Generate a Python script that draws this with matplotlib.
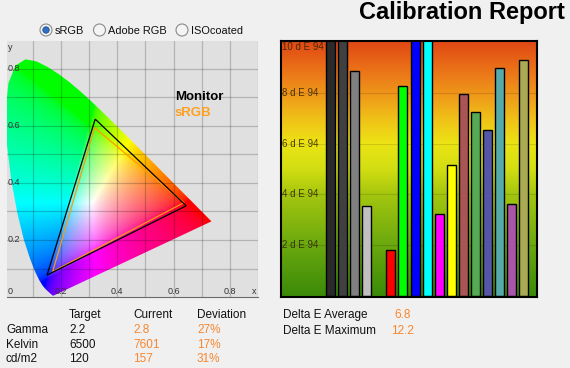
import matplotlib.pyplot as plt
import numpy as np
from matplotlib.colors import LinearSegmentedColormap
from matplotlib.patches import Polygon, Circle

plt.rcParams["font.family"] = ["Liberation Sans", "DejaVu Sans"]

# CIE 1931 spectral locus, 380-700 nm, 5 nm steps
locus_x = [0.1741, 0.1740, 0.1738, 0.1736, 0.1733, 0.1730, 0.1726, 0.1721, 0.1714, 0.1703,
           0.1689, 0.1669, 0.1644, 0.1611, 0.1566, 0.1510, 0.1440, 0.1355, 0.1241, 0.1096,
           0.0913, 0.0687, 0.0454, 0.0235, 0.0082, 0.0039, 0.0139, 0.0389, 0.0743, 0.1142,
           0.1547, 0.1929, 0.2296, 0.2658, 0.3016, 0.3373, 0.3731, 0.4087, 0.4441, 0.4788,
           0.5125, 0.5448, 0.5752, 0.6029, 0.6270, 0.6482, 0.6658, 0.6801, 0.6915, 0.7006,
           0.7079, 0.7140, 0.7190, 0.7230, 0.7260, 0.7283, 0.7300, 0.7311, 0.7320, 0.7327,
           0.7334, 0.7340, 0.7344, 0.7346, 0.7347]
locus_y = [0.0050, 0.0050, 0.0049, 0.0049, 0.0048, 0.0048, 0.0048, 0.0048, 0.0051, 0.0058,
           0.0069, 0.0086, 0.0109, 0.0138, 0.0177, 0.0227, 0.0297, 0.0399, 0.0578, 0.0868,
           0.1327, 0.2007, 0.2950, 0.4127, 0.5384, 0.6548, 0.7502, 0.8120, 0.8338, 0.8262,
           0.8059, 0.7816, 0.7543, 0.7243, 0.6923, 0.6589, 0.6245, 0.5896, 0.5547, 0.5202,
           0.4866, 0.4544, 0.4242, 0.3965, 0.3725, 0.3514, 0.3340, 0.3197, 0.3083, 0.2993,
           0.2920, 0.2859, 0.2809, 0.2770, 0.2740, 0.2717, 0.2700, 0.2689, 0.2680, 0.2673,
           0.2666, 0.2660, 0.2656, 0.2654, 0.2653]

# gamut triangles (R, G, B corners)
monitor_x = [0.645, 0.322, 0.151]
monitor_y = [0.320, 0.624, 0.077]
srgb_x = [0.637, 0.320, 0.171]
srgb_y = [0.331, 0.594, 0.089]
cie_ticks = [0.2, 0.4, 0.6, 0.8]

# delta E 94 per test patch (None = empty slot)
patch_names = ["Black", "Dark grey", "Grey", "Light grey", "", "Red", "Green", "Blue",
               "Cyan", "Magenta", "Yellow", "Light red", "Light green", "Light blue",
               "Light cyan", "Light magenta", "Light yellow"]
delta_e = [12.2, 11.6, 8.87, 3.53, None, 1.79, 8.27, 11.0, 10.6, 3.21, 5.15,
           7.96, 7.25, 6.53, 8.99, 3.61, 9.30]
patch_colors = ["#2a2a2a", "#404040", "#808080", "#c0c0c0", "none", "#ff0000", "#00ff00",
                "#0000ff", "#00ffff", "#ff00ff", "#ffff00", "#aa5555", "#55aa55",
                "#5555aa", "#55aaaa", "#aa55aa", "#aaaa55"]
de_ticks = [2, 4, 6, 8, 10]

# summary table
row_names = ["Gamma", "Kelvin", "cd/m2"]
target = ["2.2", "6500", "120"]
current = ["2.8", "7601", "157"]
deviation = ["27%", "17%", "31%"]
delta_avg = 6.8
delta_max = 12.2
radio_labels = ["sRGB", "Adobe RGB", "ISOcoated"]

orange = "#f7862f"
W, H = 570, 368
fig = plt.figure(figsize=(5.7, 3.68), dpi=100, facecolor="#f0f0f0")


def box(x0, y0, x1, y1):
    # pixel box -> figure fraction
    return [x0 / W, (H - y1) / H, (x1 - x0) / W, (y1 - y0) / H]


# overlay for free text, pixel coords
ov = fig.add_axes([0, 0, 1, 1])
ov.set_xlim(0, W)
ov.set_ylim(H, 0)
ov.axis("off")

ov.text(565, 13, "Calibration Report", ha="right", va="center", fontsize=17,
        fontweight="bold", color="black")

radio_x = [46, 99.5, 182]
for i, (lab, rx) in enumerate(zip(radio_labels, radio_x)):
    ov.add_patch(Circle((rx, 30), 6, facecolor="#f4f4f4", edgecolor="#8a8a8a", lw=0.8))
    if i == 0:
        ov.add_patch(Circle((rx, 30), 3.2, facecolor="#2f6fc8", edgecolor="#1c4a8a", lw=0.6))
    ov.text(rx + 9, 30.5, lab, ha="left", va="center", fontsize=7.9, color="#111111")

col_x = [69, 133, 197]
ov.text(col_x[0], 315, "Target", va="center", fontsize=8.5, color="#111111")
ov.text(col_x[1], 315, "Current", va="center", fontsize=8.5, color="#111111")
ov.text(col_x[2], 315, "Deviation", va="center", fontsize=8.5, color="#111111")
for r, name in enumerate(row_names):
    y = 330 + r * 14.7
    ov.text(6, y, name, va="center", fontsize=8.5, color="#111111")
    ov.text(col_x[0], y, target[r], va="center", fontsize=8.5, color="#111111")
    ov.text(col_x[1], y, current[r], va="center", fontsize=8.5, color=orange)
    ov.text(col_x[2], y, deviation[r], va="center", fontsize=8.5, color=orange)

ov.text(283, 315, "Delta E Average", va="center", fontsize=8.5, color="#111111")
ov.text(283, 331, "Delta E Maximum", va="center", fontsize=8.5, color="#111111")
ov.text(402.5, 315, f"{delta_avg:.1f}", ha="center", va="center", fontsize=8.5, color=orange)
ov.text(402.5, 331, f"{delta_max:.1f}", ha="center", va="center", fontsize=8.5, color=orange)

# chromaticity diagram
ax = fig.add_axes(box(7, 41, 258, 296.5))
ax.set_facecolor("#e0e0e0")
gx, gy = np.meshgrid(np.linspace(0, 0.9, 450), np.linspace(0, 0.9, 450))
gys = np.maximum(gy, 1e-4)
xyz = np.stack([gx / gys, np.ones_like(gx), (1 - gx - gy) / gys], -1)
m = np.array([[3.2406, -1.5372, -0.4986], [-0.9689, 1.8758, 0.0415], [0.0557, -0.2040, 1.0570]])
rgb = np.clip(xyz @ m.T, 0, None)
rgb = rgb / (rgb.max(axis=-1, keepdims=True) + 1e-9)
rgb = np.where(rgb <= 0.0031308, 12.92 * rgb, 1.055 * rgb ** (1 / 2.4) - 0.055)
im = ax.imshow(np.clip(rgb, 0, 1), origin="lower", extent=(0, 0.9, 0, 0.9),
               interpolation="bilinear", zorder=1)
im.set_clip_path(Polygon(np.column_stack([locus_x, locus_y]), closed=True,
                         transform=ax.transData))
ax.set_aspect("auto")
ax.set_xlim(0.0088, 0.897)
ax.set_ylim(0.0018, 0.898)
ax.set_xticks(np.arange(0.1, 0.95, 0.1))
ax.set_yticks(np.arange(0.1, 0.85, 0.1))
ax.grid(True, color="black", alpha=0.2, lw=0.9, zorder=2)
ax.set_axisbelow(False)
ax.tick_params(length=0, labelbottom=False, labelleft=False)
for s in ["top", "left", "right"]:
    ax.spines[s].set_visible(False)
ax.spines["bottom"].set_color("#6a6a6a")

ax.fill(srgb_x, srgb_y, fill=False, edgecolor="#ff9a10", lw=0.9, zorder=3)
ax.fill(monitor_x, monitor_y, fill=False, edgecolor="black", lw=0.9, zorder=4)

for v in cie_ticks:
    ax.text(v, 0.021, f"{v:.1f}", ha="center", va="center", fontsize=6.5, color="#333333", zorder=5)
    ax.text(0.012, v, f"{v:.1f}", ha="left", va="center", fontsize=6.5, color="#333333", zorder=5)
ax.text(0.012, 0.021, "0", ha="left", va="center", fontsize=6.5, color="#333333", zorder=5)
ax.text(0.887, 0.021, "x", ha="center", va="center", fontsize=6.5, color="#333333", zorder=5)
ax.text(0.012, 0.875, "y", ha="left", va="center", fontsize=6.5, color="#333333", zorder=5)
ax.text(0.604, 0.702, "Monitor", ha="left", va="center", fontsize=9.5, fontweight="bold",
        color="black", zorder=5)
ax.text(0.604, 0.646, "sRGB", ha="left", va="center", fontsize=9.5, fontweight="bold",
        color="#ffa020", zorder=5)

# delta E bar chart
bx = fig.add_axes(box(281, 41, 537, 297))
xlo, xhi = -4.15, 17.15
ylo, yhi = -0.05, 10.05
grad = LinearSegmentedColormap.from_list("de", [
    (0.0, "#3a8a08"), (0.2, "#6aa80e"), (0.4, "#a4c60e"), (0.5, "#d2de12"),
    (0.6, "#ece414"), (0.7, "#f0c018"), (0.8, "#ef941a"), (0.9, "#ea6e18"),
    (1.0, "#e04814")])
bx.imshow(np.linspace(0, 1, 256).reshape(-1, 1), cmap=grad, origin="lower",
          extent=(xlo, xhi, ylo, yhi), aspect="auto", zorder=0)
for t in de_ticks[:-1]:
    bx.axhline(t, color="black", alpha=0.12, lw=0.8, zorder=1)
for i, (v, c) in enumerate(zip(delta_e, patch_colors)):
    if v is None:
        continue
    bx.bar(i, v, width=0.75, color=c, edgecolor="black", lw=1.0, zorder=2)
for t in de_ticks:
    bx.text(xlo + 0.1, min(t, 9.82), f"{t} d E 94", ha="left", va="center",
            fontsize=7, color="#2e2206", alpha=0.85, zorder=3)
bx.set_xlim(xlo, xhi)
bx.set_ylim(ylo, yhi)
bx.set_xticks([])
bx.set_yticks([])
for s in bx.spines.values():
    s.set_color("black")
    s.set_linewidth(1.5)

fig.savefig("out.png", dpi=100, facecolor=fig.get_facecolor())
